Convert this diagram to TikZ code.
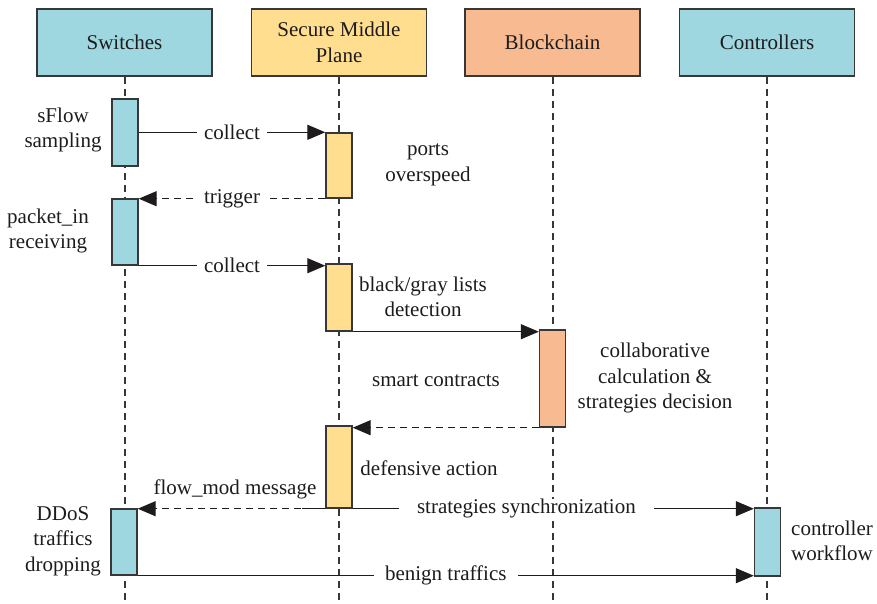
\documentclass[tikz,border=0pt]{standalone}
\usepackage{fontspec}
\setmainfont{Liberation Serif}
\usetikzlibrary{arrows.meta}
\definecolor{swfill}{RGB}{158,215,224}
\definecolor{smpfill}{RGB}{255,223,143}
\definecolor{bcfill}{RGB}{248,187,145}
\definecolor{edge}{RGB}{55,55,55}
\definecolor{ink}{RGB}{30,27,28}
\tikzset{
  hdr/.style={draw=edge, line width=1.4pt, minimum width=175pt, minimum height=67pt,
    inner sep=0pt, align=center, text=ink},
  act/.style={draw=edge, line width=1.4pt, minimum width=26pt, inner sep=0pt},
  life/.style={draw=edge, line width=1.1pt, dash pattern=on 7pt off 5pt},
  msg/.style={draw=ink, line width=1.3pt, -{Triangle[length=18pt,width=15pt]}},
  rmsg/.style={msg, dash pattern=on 7pt off 5pt},
  lbl/.style={fill=white, inner sep=0pt, inner xsep=7pt, text=ink},
  note/.style={align=center, text=ink, inner sep=0pt}
}
\begin{document}
\begin{tikzpicture}[x=1pt,y=-1pt, font=\fontsize{21}{25.5}\selectfont]
\useasboundingbox (0,0) rectangle (877,603);

% participants
\node[hdr, fill=swfill]  (sw)  at (124.5,42.5) {Switches};
\node[hdr, fill=smpfill] (smp) at (339,42.5) {Secure Middle\\Plane};
\node[hdr, fill=bcfill]  (bc)  at (552.5,42.5) {Blockchain};
\node[hdr, fill=swfill]  (ct)  at (767,42.5) {Controllers};

% lifeline ends
\coordinate (swEnd)  at (125,603);
\coordinate (smpEnd) at (339,603);
\coordinate (bcEnd)  at (553,603);
\coordinate (ctEnd)  at (767,603);

\draw[life] (sw.south -| swEnd) -- (swEnd);
\draw[life] (smp.south -| smpEnd) -- (smpEnd);
\draw[life] (bc.south -| bcEnd) -- (bcEnd);
\draw[life] (ct.south -| ctEnd) -- (ctEnd);

% start of the synchronization message
\coordinate (syncStart) at (302,508.5);

% synchronization line runs behind the middle bar
\draw[ink, line width=1.3pt] (syncStart) -- (339,508.5);

% activation bars
\node[act, fill=swfill,  minimum height=67pt] (a1) at (125,132.5) {};
\node[act, fill=swfill,  minimum height=66pt] (a2) at (125,232) {};
\node[act, fill=swfill,  minimum height=66pt] (a3) at (124,542) {};
\node[act, fill=smpfill, minimum height=65pt] (b1) at (339,165.5) {};
\node[act, fill=smpfill, minimum height=67pt] (b2) at (339,297.5) {};
\node[act, fill=smpfill, minimum height=82pt] (b3) at (339,467) {};
\node[act, fill=bcfill,  minimum height=97pt] (c1) at (552.5,378.5) {};
\node[act, fill=swfill,  minimum height=68pt] (d1) at (767.5,542) {};

% messages
\draw[msg] (a1.east |- b1.north west) -- node[lbl] {collect} (b1.north west);
\draw[rmsg] (b1.south west) -- node[lbl] {trigger} (a2.east |- b1.south west);
\draw[msg] (a2.south east) -- node[lbl] {collect} (b2.west |- a2.south east);
\draw[msg] (b2.south east) -- (c1.west |- b2.south east);
\draw[rmsg] (c1.south west) -- (b3.east |- c1.south west);
\draw[rmsg] (b3.south west) -- (a3.east |- b3.south west);
\draw[msg] (a3.south east) -- node[lbl, inner xsep=11pt] {benign traffics} (d1.west |- a3.south east);
\draw[msg] (b3.south east) -- node[lbl, inner xsep=18pt, pos=0.433] {strategies synchronization} (d1.west |- b3.south east);

% notes
\node[note] (n1) at (63,130)  {sFlow\\sampling};
\node[note] (n2) at (428,165) {ports\\overspeed};
\node[note] (n3) at (48,231)  {packet\_in\\receiving};
\node[note] (n4) at (423,297) {black/gray lists\\detection};
\node[note] (n5) at (436,381) {smart contracts};
\node[note] (n6) at (655,378) {collaborative\\calculation \&\\strategies decision};
\node[note] (n7) at (429,468) {defensive action};
\node[note] (n8) at (235,489) {flow\_mod message};
\node[note] (n9) at (63,541)  {DDoS\\traffics\\dropping};
\node[note] (n10) at (832,541) {controller\\workflow};
\end{tikzpicture}
\end{document}
